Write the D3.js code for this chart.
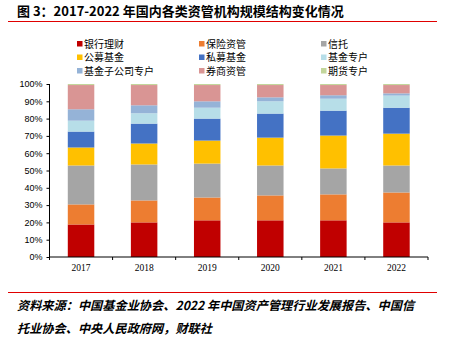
<!DOCTYPE html>
<html>
<head>
<meta charset="utf-8">
<script src="https://cdn.jsdelivr.net/npm/d3@7/dist/d3.min.js"></script>
<style>
  body { margin: 0; background: #fff; }
  svg { display: block; }
  .axis path, .axis line { stroke: #000; }
  .ylab text { font-family: 'Liberation Sans', Arial, sans-serif; font-size: 9px; fill: #000; }
  .xlab text { font-family: 'Liberation Serif', 'Times New Roman', serif; font-size: 9.5px; fill: #000; }
</style>
</head>
<body>
<div id="chart"></div>
<script>
  // years on the x axis
  var years = ['2017', '2018', '2019', '2020', '2021', '2022'];

  // series names, in stacking order (bottom to top)
  var seriesNames = ['银行理财', '保险资管', '信托', '公募基金', '私募基金', '基金专户', '基金子公司专户', '券商资管', '期货专户'];

  // share of each series per year, in %
  var bankWealth   = [18.8, 20.0, 21.2, 21.2, 21.2, 20.0];
  var insurance    = [11.6, 12.7, 13.2, 14.4, 15.0, 17.3];
  var trust        = [22.5, 20.8, 19.6, 17.3, 15.0, 15.6];
  var publicFund   = [10.4, 12.1, 13.3, 16.1, 19.0, 18.4];
  var privateFund  = [9.2, 11.5, 12.7, 13.9, 14.4, 15.0];
  var fundAccount  = [6.3, 6.0, 6.3, 7.1, 6.9, 7.0];
  var fundSubsid   = [6.6, 4.6, 3.7, 2.3, 2.0, 1.3];
  var brokerage    = [14.0, 11.7, 9.4, 7.1, 5.9, 4.8];
  var futures      = [0.6, 0.6, 0.6, 0.6, 0.6, 0.6];

  var yTicks = [0, 0.1, 0.2, 0.3, 0.4, 0.5, 0.6, 0.7, 0.8, 0.9, 1.0];

  var colors = ['#C00000', '#ED7D31', '#A5A5A5', '#FFC000', '#4472C4', '#B7DEE8', '#95B3D7', '#D99594', '#C3D69B'];

  var allSeries = [bankWealth, insurance, trust, publicFund, privateFund, fundAccount, fundSubsid, brokerage, futures];

  // build table rows for d3.stack
  var rows = years.map(function(y, i) {
    var row = { year: y };
    seriesNames.forEach(function(name, k) { row[name] = allSeries[k][i] / 100; });
    return row;
  });

  var W = 451, H = 338;
  var margin = { top: 84, right: 23, bottom: 81, left: 49.5 };
  var width = W - margin.left - margin.right;
  var height = H - margin.top - margin.bottom;

  var svg = d3.select('#chart').append('svg')
    .attr('width', W)
    .attr('height', H);

  // title and rules
  svg.append('text')
    .attr('x', 17)
    .attr('y', 15.5)
    .style('font-family', "'Noto Sans CJK SC', sans-serif")
    .style('font-weight', 'bold')
    .style('font-size', '13px')
    .text('图 3：2017-2022 年国内各类资管机构规模结构变化情况');

  svg.append('line')
    .attr('x1', 8).attr('x2', 437)
    .attr('y1', 21.5).attr('y2', 21.5)
    .attr('stroke', '#E00000').attr('stroke-width', 1.2);

  svg.append('line')
    .attr('x1', 8).attr('x2', 437)
    .attr('y1', 292.5).attr('y2', 292.5)
    .attr('stroke', '#E00000').attr('stroke-width', 1.2);

  // source note
  var src = svg.append('text')
    .style('font-family', "'Noto Sans CJK SC', sans-serif")
    .style('font-style', 'italic')
    .style('font-weight', 'bold')
    .style('font-size', '12.2px');
  src.append('tspan').attr('x', 17).attr('y', 310)
    .text('资料来源：中国基金业协会、2022 年中国资产管理行业发展报告、中国信');
  src.append('tspan').attr('x', 17).attr('y', 333)
    .text('托业协会、中央人民政府网，财联社');

  // legend
  var legX = [77, 199, 321];
  var legY = [44, 57.5, 71];
  var legend = svg.append('g');
  seriesNames.forEach(function(name, k) {
    var col = k % 3, row = Math.floor(k / 3);
    legend.append('rect')
      .attr('x', legX[col]).attr('y', legY[row] - 3)
      .attr('width', 5.5).attr('height', 5.5)
      .attr('fill', colors[k]);
    legend.append('text')
      .attr('x', legX[col] + 7)
      .attr('y', legY[row] + 3.5)
      .style('font-family', "'Noto Sans CJK SC', sans-serif")
      .style('font-size', '10px')
      .attr('fill', '#000')
      .text(name);
  });

  var g = svg.append('g')
    .attr('transform', 'translate(' + margin.left + ',' + margin.top + ')');

  var x = d3.scaleBand().domain(years).range([0, width]).paddingInner(0).paddingOuter(0);
  var y = d3.scaleLinear().domain([0, 1]).range([height, 0]);

  var stack = d3.stack().keys(seriesNames);
  var layers = stack(rows);

  var barW = x.bandwidth() * 0.42;

  g.selectAll('.layer')
    .data(layers)
    .enter().append('g')
    .attr('class', 'layer')
    .attr('fill', function(d, i) { return colors[i]; })
    .selectAll('rect')
    .data(function(d) { return d; })
    .enter().append('rect')
    .attr('x', function(d) { return x(d.data.year) + (x.bandwidth() - barW) / 2; })
    .attr('width', barW)
    .attr('y', function(d) { return y(d[1]); })
    .attr('height', function(d) { return y(d[0]) - y(d[1]); });

  // Y axis
  g.append('g')
    .attr('class', 'axis ylab')
    .call(d3.axisLeft(y).tickValues(yTicks).tickSize(3).tickPadding(4).tickFormat(d3.format('.0%')))
    .call(function(a) { a.select('.domain').attr('d', 'M0,0V' + height); });

  // X axis: labels at band centres, ticks at band edges
  g.append('g')
    .attr('class', 'axis xlab')
    .attr('transform', 'translate(0,' + height + ')')
    .call(d3.axisBottom(x).tickSize(0).tickPadding(7))
    .call(function(a) { a.select('.domain').attr('d', 'M0,0H' + width); });

  var edges = years.map(function(d) { return x(d); }).concat([width]);
  g.selectAll('.xedge')
    .data(edges)
    .enter().append('line')
    .attr('class', 'xedge')
    .attr('x1', function(d) { return d; }).attr('x2', function(d) { return d; })
    .attr('y1', height).attr('y2', height + 3)
    .attr('stroke', '#000');
</script>
</body>
</html>
